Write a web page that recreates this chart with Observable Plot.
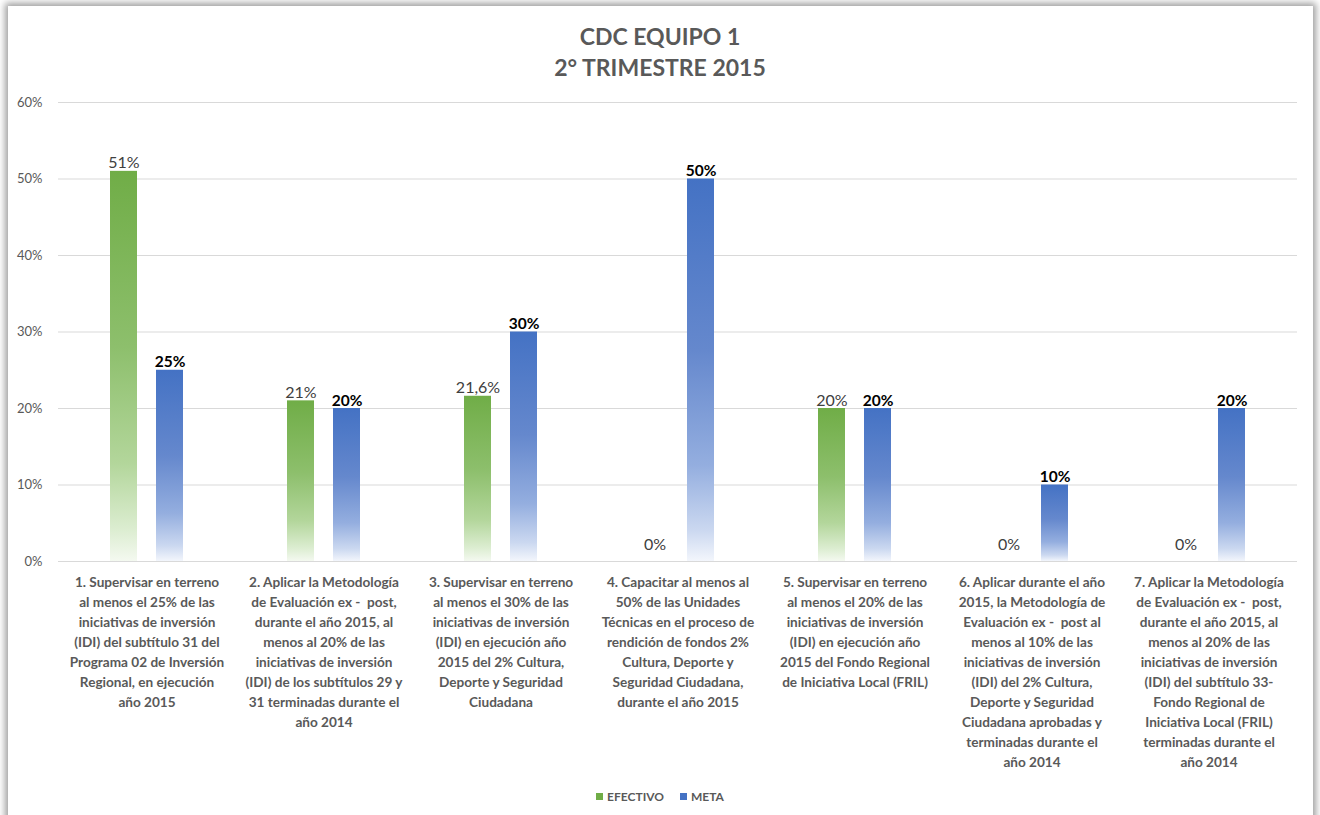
<!DOCTYPE html>
<html>
<head>
<meta charset="utf-8">
<script src="https://cdn.jsdelivr.net/npm/d3@7"></script>
<script src="https://cdn.jsdelivr.net/npm/@observablehq/plot@0.6"></script>
<style>
  html, body { margin: 0; padding: 0; background: #ffffff; width: 1320px; height: 815px; overflow: hidden; font-family: Lato, "Open Sans", sans-serif; }
  #card { position: absolute; left: 8px; top: 6px; width: 1305px; height: 840px; background: #fff; box-shadow: 0 0 7px 3px rgba(0,0,0,0.38); }
  #title { position: absolute; left: 0; top: 21px; width: 1320px; text-align: center; font-weight: bold; font-size: 23px; line-height: 31px; color: #595959; }
  #chart { position: absolute; left: 0; top: 82px; }
  #legend { position: absolute; left: 0; top: 789px; width: 1320px; text-align: center; font-size: 12px; color: #595959; font-weight: bold; }
  #legend span.sw { display: inline-block; width: 7px; height: 7px; margin-right: 4px; vertical-align: 1px; }
  #legend span.item { margin: 0 8px; }
</style>
</head>
<body>
<div id="card"></div>
<div id="title">CDC EQUIPO 1<br>2° TRIMESTRE 2015</div>
<div id="chart"></div>
<div id="legend"></div>
<script>
const categories = [
  "1. Supervisar en terreno\nal menos el 25% de las\niniciativas de inversión\n(IDI) del subtítulo 31 del\nPrograma 02 de Inversión\nRegional, en ejecución\naño 2015",
  "2. Aplicar la Metodología\nde Evaluación ex -  post,\ndurante el año 2015, al\nmenos al 20% de las\niniciativas de inversión\n(IDI) de los subtítulos 29 y\n31 terminadas durante el\naño 2014",
  "3. Supervisar en terreno\nal menos el 30% de las\niniciativas de inversión\n(IDI) en ejecución año\n2015 del 2% Cultura,\nDeporte y Seguridad\nCiudadana",
  "4. Capacitar al menos al\n50% de las Unidades\nTécnicas en el proceso de\nrendición de fondos 2%\nCultura, Deporte y\nSeguridad Ciudadana,\ndurante el año 2015",
  "5. Supervisar en terreno\nal menos el 20% de las\niniciativas de inversión\n(IDI) en ejecución año\n2015 del Fondo Regional\nde Iniciativa Local (FRIL)",
  "6. Aplicar durante el año\n2015, la Metodología de\nEvaluación ex -  post al\nmenos al 10% de las\niniciativas de inversión\n(IDI) del 2% Cultura,\nDeporte y Seguridad\nCiudadana aprobadas y\nterminadas durante el\naño 2014",
  "7. Aplicar la Metodología\nde Evaluación ex -  post,\ndurante el año 2015, al\nmenos al 20% de las\niniciativas de inversión\n(IDI) del subtítulo 33-\nFondo Regional de\nIniciativa Local (FRIL)\nterminadas durante el\naño 2014"
];
const series = ["EFECTIVO", "META"];
const efectivo = [51, 21, 21.6, 0, 20, 0, 0];
const meta = [25, 20, 30, 50, 20, 10, 20];
const efectivoLabels = ["51%", "21%", "21,6%", "0%", "20%", "0%", "0%"];
const metaLabels = ["25%", "20%", "30%", "50%", "20%", "10%", "20%"];
const yTicks = [0, 10, 20, 30, 40, 50, 60];

const efRows = categories.map((c, i) => ({cat: c, serie: series[0], value: efectivo[i], label: efectivoLabels[i]}));
const meRows = categories.map((c, i) => ({cat: c, serie: series[1], value: meta[i], label: metaLabels[i]}));

const fontFamily = "Lato, 'Open Sans', sans-serif";

const chart = Plot.plot({
  width: 1320,
  height: 689,
  marginLeft: 57,
  marginRight: 23,
  marginTop: 20,
  marginBottom: 210,
  style: {fontFamily, fontSize: "12px", color: "#595959", background: "transparent", overflow: "visible"},
  fx: {domain: categories, padding: 0, axis: null, label: null},
  x: {domain: series, paddingInner: 0.4167, paddingOuter: 1.1, axis: null, label: null},
  y: {domain: [0, 60], axis: null, label: null},
  marks: [
    Plot.gridY(yTicks, {stroke: "#d9d9d9", strokeOpacity: 1, strokeWidth: 1}),
    Plot.axisY(yTicks, {tickSize: 0, tickPadding: 16, tickFormat: d => d + "%", fill: "#595959", fontSize: 13, label: null}),
    Plot.axisFx({anchor: "bottom", label: null, tickSize: 0, tickPadding: 11, lineHeight: 1.47, fontSize: 13.6, fontWeight: "bold", fill: "#595959", textOverflow: null, lineWidth: Infinity}),
    Plot.barY(efRows, {fx: "cat", x: "serie", y: "value", fill: "url(#gGreen)", inset: 0}),
    Plot.barY(meRows, {fx: "cat", x: "serie", y: "value", fill: "url(#gBlue)", inset: 0}),
    Plot.text(efRows, {filter: d => d.value > 0, fx: "cat", x: "serie", y: "value", text: "label", lineAnchor: "bottom", dy: -3, fill: "#404040", fontSize: 16}),
    Plot.text(efRows, {filter: d => d.value === 0, fx: "cat", x: "serie", y: "value", text: "label", lineAnchor: "bottom", dy: -12, fill: "#404040", fontSize: 16}),
    Plot.text(meRows, {fx: "cat", x: "serie", y: "value", text: "label", lineAnchor: "bottom", dy: -3, fill: "#000000", fontSize: 15.5, fontWeight: "bold"})
  ]
});

const svg = d3.select(chart);
const defs = svg.insert("defs", ":first-child");
function grad(id, stops) {
  const g = defs.append("linearGradient").attr("id", id).attr("x1", 0).attr("y1", 0).attr("x2", 0).attr("y2", 1);
  stops.forEach(([o, c]) => g.append("stop").attr("offset", o).attr("stop-color", c));
}
grad("gGreen", [[0, "#70AD47"], [0.45, "#8dbf6c"], [0.75, "#b3d69b"], [0.92, "#dcedd1"], [1, "#f4f9f0"]]);
grad("gBlue", [[0, "#4472C4"], [0.45, "#6588cd"], [0.75, "#94aedf"], [0.92, "#cbd8f0"], [1, "#f3f6fc"]]);

document.getElementById("chart").appendChild(chart);

const legend = document.getElementById("legend");
[["EFECTIVO", "#70AD47"], ["META", "#4472C4"]].forEach(([name, col]) => {
  const item = document.createElement("span");
  item.className = "item";
  const sw = document.createElement("span");
  sw.className = "sw";
  sw.style.background = col;
  item.appendChild(sw);
  item.appendChild(document.createTextNode(name));
  legend.appendChild(item);
});
</script>
</body>
</html>
